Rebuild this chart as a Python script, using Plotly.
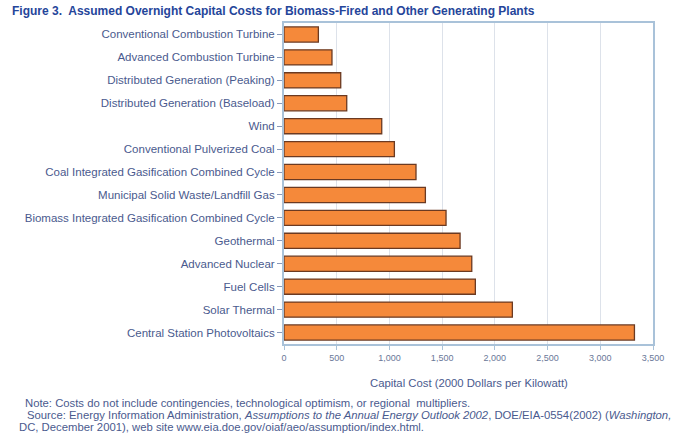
import plotly.graph_objects as go

categories = [
    "Conventional Combustion Turbine",
    "Advanced Combustion Turbine",
    "Distributed Generation (Peaking)",
    "Distributed Generation (Baseload)",
    "Wind",
    "Conventional Pulverized Coal",
    "Coal Integrated Gasification Combined Cycle",
    "Municipal Solid Waste/Landfill Gas",
    "Biomass Integrated Gasification Combined Cycle",
    "Geothermal",
    "Advanced Nuclear",
    "Fuel Cells",
    "Solar Thermal",
    "Central Station Photovoltaics",
]
costs = [326, 455, 538, 595, 927, 1047, 1252, 1341, 1537, 1670, 1781, 1815, 2166, 3324]
x_ticks = [0, 500, 1000, 1500, 2000, 2500, 3000, 3500]
x_tick_labels = ["0", "500", "1,000", "1,500", "2,000", "2,500", "3,000", "3,500"]

W, H = 681, 436
L, R, T, B = 284, 28, 23, 92
PW, PH = W - L - R, H - T - B

def px(x):
    return (x - L) / PW

def py(y):
    return (H - B - y) / PH

text_col = "#4a5a8e"
fig = go.Figure()
fig.add_trace(go.Bar(
    x=costs, y=categories, orientation="h",
    marker=dict(color="#f5893a", line=dict(color="#6b3a22", width=1.3)),
    width=0.66,
))
fig.update_layout(
    width=W, height=H,
    margin=dict(l=L, r=R, t=T, b=B),
    paper_bgcolor="white", plot_bgcolor="white",
    font=dict(family="Liberation Sans, Arial, sans-serif", size=11, color=text_col),
    showlegend=False,
)
fig.update_xaxes(
    range=[0, 3500], tickvals=x_ticks, ticktext=x_tick_labels,
    showgrid=True, gridcolor="#dde2ea", gridwidth=1,
    showline=True, linecolor="#a9c2d9", linewidth=2, mirror=True,
    ticks="outside", ticklen=4, tickcolor="#a9c2d9",
    tickfont=dict(size=9, color="#6a7898"), zeroline=False,
)
fig.update_yaxes(
    categoryorder="array", categoryarray=categories, autorange="reversed",
    showline=True, linecolor="#a9c2d9", linewidth=2, mirror=True,
    ticks="outside", ticklen=5, tickcolor="#8898b8",
    tickfont=dict(size=11.5, color=text_col),
)

note_font = dict(size=11.3, color=text_col)
ann = []
ann.append(dict(text="<b>Figure 3.  Assumed Overnight Capital Costs for Biomass-Fired and Other Generating Plants</b>",
                x=px(10), y=py(11), xref="paper", yref="paper", xanchor="left", yanchor="middle",
                showarrow=False, font=dict(size=12, color="#25459a")))
ann.append(dict(text="Capital Cost (2000 Dollars per Kilowatt)",
                x=px(469), y=py(383), xref="paper", yref="paper", xanchor="center", yanchor="middle",
                showarrow=False, font=dict(size=11.3, color=text_col)))
ann.append(dict(text="Note: Costs do not include contingencies, technological optimism, or regional  multipliers.",
                x=px(23), y=py(403), xref="paper", yref="paper", xanchor="left", yanchor="middle",
                showarrow=False, font=note_font))
ann.append(dict(text="Source: Energy Information Administration, <i>Assumptions to the Annual Energy Outlook 2002</i>, DOE/EIA-0554(2002) (<i>Washington,</i>",
                x=px(25), y=py(415), xref="paper", yref="paper", xanchor="left", yanchor="middle",
                showarrow=False, font=note_font))
ann.append(dict(text="DC, December 2001), web site www.eia.doe.gov/oiaf/aeo/assumption/index.html.",
                x=px(17), y=py(427), xref="paper", yref="paper", xanchor="left", yanchor="middle",
                showarrow=False, font=note_font))
fig.update_layout(annotations=ann)

fig.write_html("out.html", config={"displayModeBar": False},
               post_script="document.body.style.margin='0';document.body.style.padding='0';")
